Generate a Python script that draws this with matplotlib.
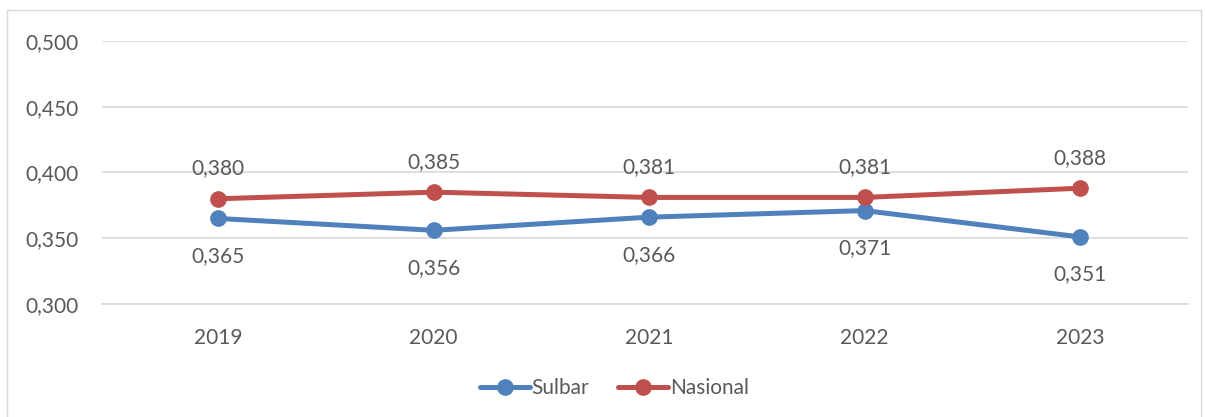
import matplotlib.pyplot as plt
from matplotlib.patches import Rectangle
from matplotlib.ticker import FuncFormatter

years = ['2019', '2020', '2021', '2022', '2023']
sulbar = [0.365, 0.356, 0.366, 0.371, 0.351]
nasional = [0.380, 0.385, 0.381, 0.381, 0.388]

blue = '#4F81BD'
red = '#C0504D'
txt = '#595959'

plt.rcParams['font.family'] = ['Lato', 'DejaVu Sans']

fig = plt.figure(figsize=(12.05, 4.17), dpi=100)
fig.patches.append(Rectangle((0.006, -0.01), 0.991, 0.986, transform=fig.transFigure,
                             fill=False, edgecolor='#D9D9D9', lw=1))
ax = fig.add_axes([0.0846, 0.271, 0.901, 0.631])

x = list(range(len(years)))
ax.plot(x, sulbar, color=blue, lw=3.6, marker='o', ms=11, label='Sulbar', solid_capstyle='round')
ax.plot(x, nasional, color=red, lw=3.6, marker='o', ms=11, label='Nasional', solid_capstyle='round')

def fmt(v):
    return f'{v:.3f}'.replace('.', ',')

for i in x:
    ax.annotate(fmt(sulbar[i]), (i, sulbar[i]), xytext=(0, -27), textcoords='offset points',
                ha='center', va='center', fontsize=15, color=txt)
    ax.annotate(fmt(nasional[i]), (i, nasional[i]), xytext=(0, 22), textcoords='offset points',
                ha='center', va='center', fontsize=15, color=txt)

ax.set_xlim(-0.54, 4.5)
ax.set_ylim(0.3, 0.5)
ax.set_yticks([0.30, 0.35, 0.40, 0.45, 0.50])
ax.yaxis.set_major_formatter(FuncFormatter(lambda v, p: fmt(v)))
ax.set_xticks(x)
ax.set_xticklabels(years)
ax.grid(axis='y', color='#D9D9D9', lw=1.2)
ax.set_axisbelow(True)
for s in ['top', 'right', 'left']:
    ax.spines[s].set_visible(False)
ax.spines['bottom'].set_color('#D9D9D9')
ax.spines['bottom'].set_linewidth(1.2)
ax.tick_params(length=0, labelsize=15, colors=txt, pad=17)
ax.tick_params(axis='y', pad=17)

fig.legend(loc='center', bbox_to_anchor=(0.51, 0.07), ncol=2, frameon=False, fontsize=15,
           labelcolor=txt, handlelength=2.4, handletextpad=0.1, columnspacing=1.4)

fig.savefig('out.png', dpi=100)
